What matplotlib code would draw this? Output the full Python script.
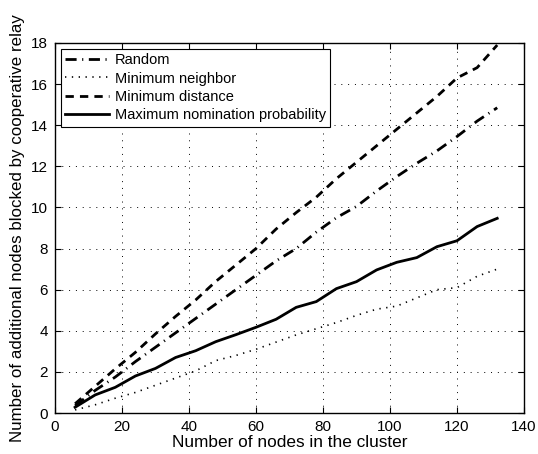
import matplotlib

matplotlib.use("Agg")

import matplotlib.pyplot as plt

plt.rcParams["font.family"] = ["Liberation Sans", "DejaVu Sans"]

# cluster sizes and blocked-node counts for each relay selection rule
nodes = [6, 12, 18, 24, 30, 36, 42, 48, 54, 60, 66, 72, 78, 84, 90, 96, 102, 108, 114, 120, 126, 132]
random_sel = [0.35, 1.1, 1.75, 2.5, 3.2, 3.9, 4.6, 5.3, 6.0, 6.7, 7.4, 8.0, 8.8, 9.5, 10.05,
              10.8, 11.5, 12.15, 12.75, 13.45, 14.2, 14.85]
min_neighbor = [0.15, 0.4, 0.72, 1.0, 1.35, 1.7, 2.05, 2.55, 2.8, 3.1, 3.45, 3.8, 4.1, 4.4,
                4.75, 5.05, 5.2, 5.6, 6.0, 6.1, 6.65, 7.0]
min_distance = [0.45, 1.3, 2.15, 2.95, 3.85, 4.7, 5.5, 6.4, 7.2, 8.0, 8.95, 9.75, 10.5, 11.4,
                12.2, 13.0, 13.8, 14.6, 15.4, 16.3, 16.8, 17.9]
max_nomination = [0.28, 0.88, 1.25, 1.8, 2.17, 2.7, 3.03, 3.47, 3.81, 4.17, 4.56, 5.14, 5.42,
                  6.05, 6.39, 6.96, 7.33, 7.56, 8.09, 8.38, 9.07, 9.47]

labels = ["Random", "Minimum neighbor", "Minimum distance", "Maximum nomination probability"]
x_ticks = [0, 20, 40, 60, 80, 100, 120, 140]
y_ticks = [0, 2, 4, 6, 8, 10, 12, 14, 16, 18]

fig = plt.figure(figsize=(5.38, 4.54), dpi=100)
ax = fig.add_axes([0.1022, 0.0903, 0.8718, 0.815])

ax.plot(nodes, random_sel, color="k", lw=2, linestyle=(0, (4, 2, 0.4, 2)), label=labels[0])
ax.plot(nodes, min_neighbor, color="k", lw=1.2, linestyle=(0, (0.8, 3.3)), label=labels[1])
ax.plot(nodes, min_distance, color="k", lw=2, linestyle=(0, (3, 2.2)), label=labels[2])
ax.plot(nodes, max_nomination, color="k", lw=2, linestyle="-", label=labels[3])

ax.set_xlim(0, 140)
ax.set_ylim(0, 18)
ax.set_xticks(x_ticks)
ax.set_yticks(y_ticks)
ax.tick_params(direction="in", length=4, width=0.8, labelsize=11,
               top=True, right=True, pad=5)
for spine in ax.spines.values():
    spine.set_linewidth(1.0)

ax.grid(True, color="k", linewidth=0.7, linestyle=(0, (1, 6)))
ax.set_axisbelow(True)

ax.set_xlabel("Number of nodes in the cluster", fontsize=12.4, labelpad=1)
ax.set_ylabel("Number of additional nodes blocked by cooperative relay", fontsize=12.2, labelpad=4)

leg = ax.legend(loc="upper left", fontsize=10.5, handlelength=3.0, handletextpad=0.4,
                borderaxespad=0.4, borderpad=0.3, labelspacing=0.3, fancybox=False,
                framealpha=1, edgecolor="k")
leg.get_frame().set_linewidth(0.8)

fig.savefig("out.png", dpi=100, facecolor="white")
